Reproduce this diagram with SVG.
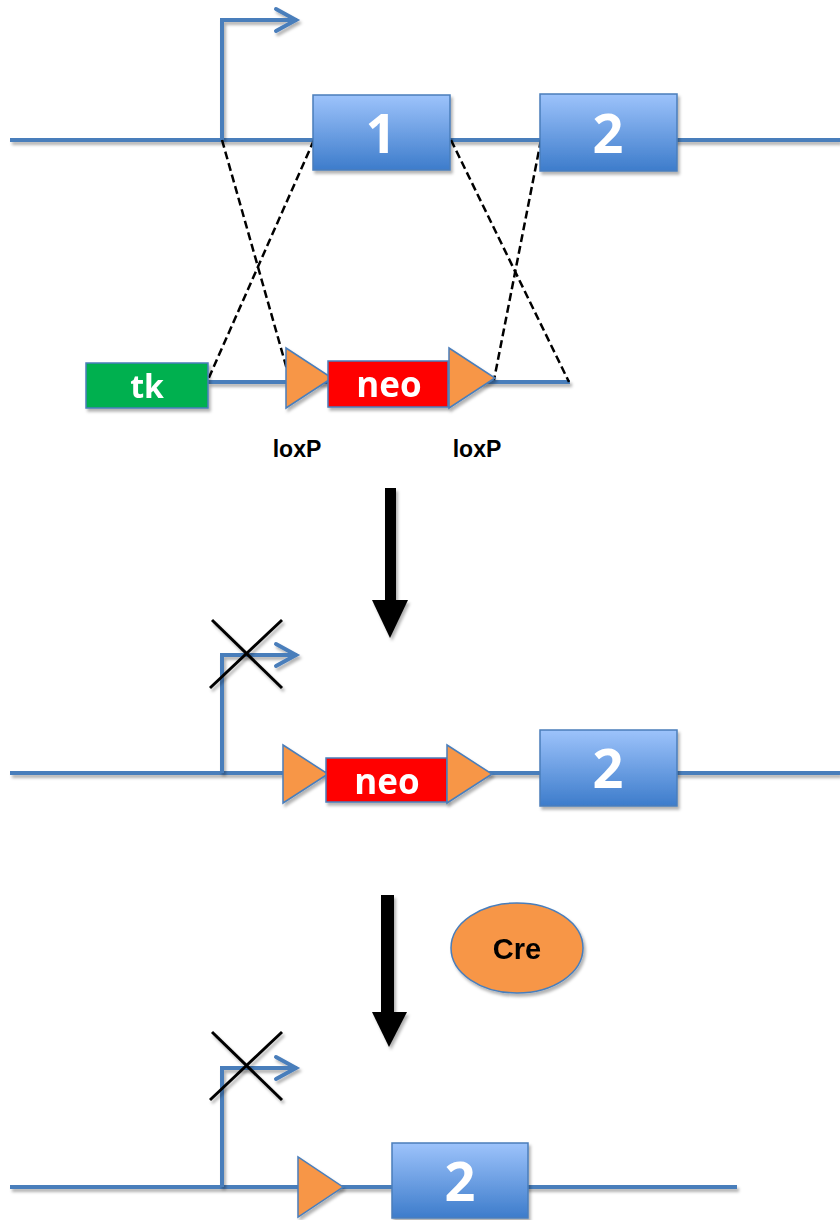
<svg xmlns="http://www.w3.org/2000/svg" width="840" height="1220" viewBox="0 0 840 1220">
<defs>
<linearGradient id="exon" x1="0" y1="0" x2="0" y2="1">
<stop offset="0" stop-color="#9dc3fb"/>
<stop offset="1" stop-color="#3d7ccb"/>
</linearGradient>
<filter id="sh" x="-20%" y="-20%" width="150%" height="160%">
<feDropShadow dx="2" dy="3" stdDeviation="1.5" flood-color="#000" flood-opacity="0.3"/>
</filter>
</defs>
<style>
.dna{stroke:#4a7ebb;stroke-width:4;fill:none}
.prom{stroke:#4a7ebb;stroke-width:4;fill:none;stroke-linejoin:miter}
.exon{fill:url(#exon);stroke:#4a7ebb;stroke-width:1.5}
.lox{fill:#f79646;stroke:#4a7ebb;stroke-width:1.5}
.neo{fill:#ff0000;stroke:#4a7ebb;stroke-width:1.5}
.tk{fill:#00b050;stroke:#4a7ebb;stroke-width:1.5}
.wt{font-family:"Open Sans","Liberation Sans",sans-serif;font-weight:bold;fill:#fff;text-anchor:middle}
.bt{font-family:"Liberation Sans",Arial,sans-serif;font-weight:bold;fill:#000;text-anchor:middle}
.dash{stroke:#000;stroke-width:2.5;stroke-dasharray:8,4;fill:none}
.x{stroke:#000;stroke-width:3;fill:none}
</style>

<g id="connectors">
<g filter="url(#sh)">
<line class="dna" x1="10" y1="140" x2="840" y2="140"/>
<line class="dna" x1="208" y1="382" x2="570" y2="382"/>
<line class="dna" x1="10" y1="773" x2="840" y2="773"/>
<line class="dna" x1="10" y1="1187" x2="737" y2="1187"/>
</g>
<g filter="url(#sh)">
<polyline class="prom" points="222,140 222,20 297,20"/>
<polyline class="prom" points="276,9 296,20 276,31" stroke-linecap="round"/>
<polyline class="prom" points="222,773 222,655 297,655"/>
<polyline class="prom" points="276,644 296,655 276,666" stroke-linecap="round"/>
<polyline class="prom" points="222,1187 222,1068 297,1068"/>
<polyline class="prom" points="276,1057 296,1068 276,1079" stroke-linecap="round"/>
</g>
<line class="dash" x1="222" y1="140" x2="290" y2="380"/>
<line class="dash" x1="314" y1="140" x2="207" y2="382"/>
<line class="dash" x1="451" y1="140" x2="569" y2="382"/>
<line class="dash" x1="541" y1="140" x2="494" y2="380"/>
<g id="arrow1" filter="url(#sh)">
<rect x="385" y="488" width="11" height="115" fill="#000"/>
<polygon points="372,600 408,600 390,638" fill="#000"/>
</g>
<g id="arrow2" filter="url(#sh)">
<rect x="381" y="895" width="13" height="120" fill="#000"/>
<polygon points="372,1012 407,1012 389,1047" fill="#000"/>
</g>
<g filter="url(#sh)">
<line class="x" x1="212" y1="620" x2="282" y2="688"/>
<line class="x" x1="282" y1="620" x2="210" y2="688"/>
<line class="x" x1="212" y1="1032" x2="282" y2="1100"/>
<line class="x" x1="282" y1="1032" x2="210" y2="1100"/>
</g>
</g>

<g id="exon1" filter="url(#sh)">
<rect class="exon" x="313" y="95" width="137" height="75"/>
<text class="wt" x="381" y="153" font-size="54">1</text>
</g>
<g id="exon2-top" filter="url(#sh)">
<rect class="exon" x="540" y="94" width="137" height="77"/>
<text class="wt" x="608" y="153" font-size="54">2</text>
</g>
<g id="tk" filter="url(#sh)">
<rect class="tk" x="86" y="363" width="122" height="45"/>
<text class="wt" x="147" y="398" font-size="32">tk</text>
</g>
<g id="loxp1-top" filter="url(#sh)">
<polygon class="lox" points="286,348 286,408 332,378"/>
</g>
<g id="neo-top" filter="url(#sh)">
<rect class="neo" x="328" y="361" width="120" height="46"/>
<text class="wt" x="389" y="397" font-size="35">neo</text>
</g>
<g id="loxp2-top" filter="url(#sh)">
<polygon class="lox" points="449,348 449,408 495,378"/>
</g>
<g id="labels">
<text class="bt" x="297" y="457" font-size="23">loxP</text>
<text class="bt" x="477" y="457" font-size="23">loxP</text>
</g>

<g id="loxp1-mid" filter="url(#sh)">
<polygon class="lox" points="283,745 283,803 328,774"/>
</g>
<g id="neo-mid" filter="url(#sh)">
<rect class="neo" x="326" y="758" width="121" height="44"/>
<text class="wt" x="387" y="794" font-size="35">neo</text>
</g>
<g id="loxp2-mid" filter="url(#sh)">
<polygon class="lox" points="447,745 447,803 492,774"/>
</g>
<g id="exon2-mid" filter="url(#sh)">
<rect class="exon" x="540" y="730" width="137" height="76"/>
<text class="wt" x="608" y="788" font-size="54">2</text>
</g>

<g id="cre" filter="url(#sh)">
<ellipse cx="517" cy="948" rx="66" ry="45" fill="#f79646" stroke="#4a7ebb" stroke-width="1.5"/>
<text class="bt" x="517" y="959" font-size="29">Cre</text>
</g>

<g id="loxp-bot" filter="url(#sh)">
<polygon class="lox" points="298,1157 298,1217 343,1187"/>
</g>
<g id="exon2-bot" filter="url(#sh)">
<rect class="exon" x="392" y="1143" width="136" height="75"/>
<text class="wt" x="460" y="1201" font-size="54">2</text>
</g>
</svg>
